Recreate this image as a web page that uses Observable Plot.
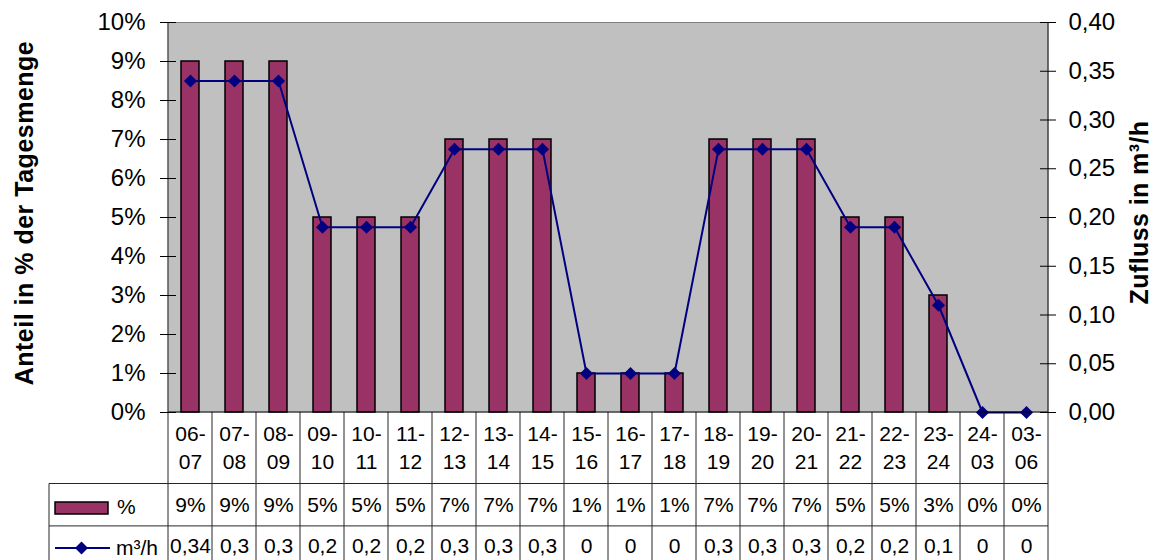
<!DOCTYPE html>
<html>
<head>
<meta charset="utf-8">
<script src="https://cdn.jsdelivr.net/npm/d3@7"></script>
<script src="https://cdn.jsdelivr.net/npm/@observablehq/plot@0.6"></script>
<style>
  html, body { margin: 0; padding: 0; background: #fff; }
  #chart svg { display: block; }
</style>
</head>
<body>
<div id="chart"></div>
<script>
// Time slots of the day
const slots = ["06-07", "07-08", "08-09", "09-10", "10-11", "11-12", "12-13", "13-14", "14-15", "15-16",
               "16-17", "17-18", "18-19", "19-20", "20-21", "21-22", "22-23", "23-24", "24-03", "03-06"];
// Share of the daily volume per slot, in percent (bars, left axis)
const shareValues = [9, 9, 9, 5, 5, 5, 7, 7, 7, 1, 1, 1, 7, 7, 7, 5, 5, 3, 0, 0];
// Inflow per slot in m³/h (line, right axis)
const flowValues = [0.34, 0.34, 0.34, 0.19, 0.19, 0.19, 0.27, 0.27, 0.27, 0.04, 0.04, 0.04,
                    0.27, 0.27, 0.27, 0.19, 0.19, 0.11, 0, 0];
// Inflow as printed in the data table row
const flowLabels = ["0,34", "0,3", "0,3", "0,2", "0,2", "0,2", "0,3", "0,3", "0,3", "0", "0", "0",
                    "0,3", "0,3", "0,3", "0,2", "0,2", "0,1", "0", "0"];
// Axis ticks
const leftTicks = [0, 1, 2, 3, 4, 5, 6, 7, 8, 9, 10];
const rightTicks = [0, 0.05, 0.10, 0.15, 0.20, 0.25, 0.30, 0.35, 0.40];

const leftTitle = "Anteil in % der Tagesmenge";
const rightTitle = "Zufluss in m³/h";
const shareKey = "%";
const flowKey = "m³/h";

const FONT = "'Liberation Sans', Arial, Helvetica, sans-serif";
const BAR = "#993366";
const LINE = "#000080";
const GRID = "#262626";

// Right axis is drawn on the left scale: 0,40 m³/h sits at 10 %
const ratio = leftTicks[leftTicks.length - 1] / rightTicks[rightTicks.length - 1];
const de = d3.formatLocale({decimal: ",", thousands: ".", grouping: [3], currency: ["", " €"]});
const fmt2 = de.format(".2f");

const rows = slots.map((slot, i) => ({
  slot,
  share: shareValues[i],
  flow: flowValues[i],
  shareLabel: `${shareValues[i]}%`,
  flowLabel: flowLabels[i]
}));

const W = 1152, H = 560;
const mL = 168, mR = 104, mT = 22, mB = 148;
const innerW = W - mL - mR;
const catRowH = 71.5, keyRowH = 42.4;
const tableLeft = 49;

// Data table grid, axis lines, legend keys and the two axis titles
function tableAndFrame(index, scales, values, dimensions) {
  const {width, height, marginLeft, marginRight, marginBottom} = dimensions;
  const x0 = marginLeft, x1 = width - marginRight, yBase = height - marginBottom;
  const xs = scales.x;
  const bw = xs.bandwidth ? xs.bandwidth() : 0;
  const step = xs.step ? xs.step() : (x1 - x0) / slots.length;
  const colLeft = (k) => k < slots.length ? xs(slots[k]) + bw / 2 - step / 2 : xs(slots[k - 1]) + bw / 2 + step / 2;
  const row1 = yBase + catRowH, row2 = row1 + keyRowH;

  const g = d3.create("svg:g").attr("font-family", FONT).attr("text-anchor", "start");
  const line = (xa, ya, xb, yb, stroke = GRID, w = 1) =>
    g.append("line").attr("x1", xa).attr("y1", ya).attr("x2", xb).attr("y2", yb)
      .attr("stroke", stroke).attr("stroke-width", w);

  // table columns
  for (let k = 0; k <= slots.length; ++k) {
    const x = colLeft(k);
    line(x, yBase, x, height);
  }
  // table rows
  line(tableLeft, row1, x1, row1);
  line(tableLeft, row2, x1, row2);
  line(tableLeft, row1, tableLeft, height);

  // axis lines
  line(x0, mT, x0, yBase, "#000");
  line(x1, mT, x1, yBase, "#000");
  line(x0, yBase, x1, yBase, "#000");

  // legend key: bars
  g.append("rect").attr("x", 55).attr("y", row1 + 18.5).attr("width", 53).attr("height", 12)
    .attr("fill", BAR).attr("stroke", "#000").attr("stroke-width", 1.5);
  g.append("text").attr("x", 117).attr("y", row1 + 22.5).attr("dy", "0.36em")
    .attr("text-anchor", "start").attr("font-size", 21).text(shareKey);

  // legend key: line with marker
  const ky = row2 + 22;
  line(55, ky, 110, ky, LINE, 2);
  g.append("path").attr("d", `M81.5,${ky - 6.5}L88,${ky}L81.5,${ky + 6.5}L75,${ky}Z`).attr("fill", LINE);
  g.append("text").attr("x", 116).attr("y", ky).attr("dy", "0.36em")
    .attr("text-anchor", "start").attr("font-size", 21).text(flowKey);

  // axis titles
  g.append("text").attr("transform", "translate(24,213) rotate(-90)")
    .attr("text-anchor", "middle").attr("dy", "0.36em")
    .attr("font-size", 25).attr("font-weight", "bold").attr("letter-spacing", 0.5)
    .text(leftTitle);
  g.append("text").attr("transform", "translate(1139,212.5) rotate(-90)")
    .attr("text-anchor", "middle").attr("dy", "0.36em")
    .attr("font-size", 25).attr("font-weight", "bold").attr("letter-spacing", 0.4)
    .text(rightTitle);

  return g.node();
}

const chart = Plot.plot({
  width: W,
  height: H,
  marginLeft: mL,
  marginRight: mR,
  marginTop: mT,
  marginBottom: mB,
  style: {fontFamily: FONT, fontSize: "21px", color: "#000", background: "#fff"},
  x: {domain: slots, paddingInner: 0.6, paddingOuter: 0.3, axis: null},
  y: {domain: [0, 10]},
  marks: [
    Plot.frame({fill: "#C0C0C0", stroke: null}),
    Plot.ruleY([leftTicks[leftTicks.length - 1]], {stroke: "#808080"}),
    Plot.barY(rows, {x: "slot", y: "share", fill: BAR, stroke: "#000", strokeWidth: 1.5}),
    Plot.line(rows, {x: "slot", y: (d) => d.flow * ratio, stroke: LINE, strokeWidth: 2}),
    Plot.dot(rows, {x: "slot", y: (d) => d.flow * ratio, symbol: "diamond2", r: 5.9, fill: LINE, stroke: null}),
    tableAndFrame,
    // crossing tick marks on both value axes
    Plot.ruleY(leftTicks, {y: (d) => d, insetLeft: -8, insetRight: innerW - 8, stroke: "#000"}),
    Plot.ruleY(rightTicks, {y: (d) => d * ratio, insetLeft: innerW - 8, insetRight: -8, stroke: "#000"}),
    Plot.axisY(leftTicks, {anchor: "left", tickSize: 0, tickPadding: 23, tickFormat: (d) => `${d}%`,
      fontSize: 24, label: null}),
    Plot.axisY(rightTicks.map((v) => v * ratio), {anchor: "right", tickSize: 0, tickPadding: 20,
      tickFormat: (d) => fmt2(d / ratio), fontSize: 24, label: null}),
    // data table rows
    Plot.text(rows, {x: "slot", y: 0, text: (d) => d.slot.replace("-", "-\n"), dy: 34, lineHeight: 1.33, fontSize: 21}),
    Plot.text(rows, {x: "slot", y: 0, text: "shareLabel", dy: 93, fontSize: 21}),
    Plot.text(rows, {x: "slot", y: 0, text: "flowLabel", dy: 134, fontSize: 21})
  ]
});

document.getElementById("chart").append(chart);
</script>
</body>
</html>
